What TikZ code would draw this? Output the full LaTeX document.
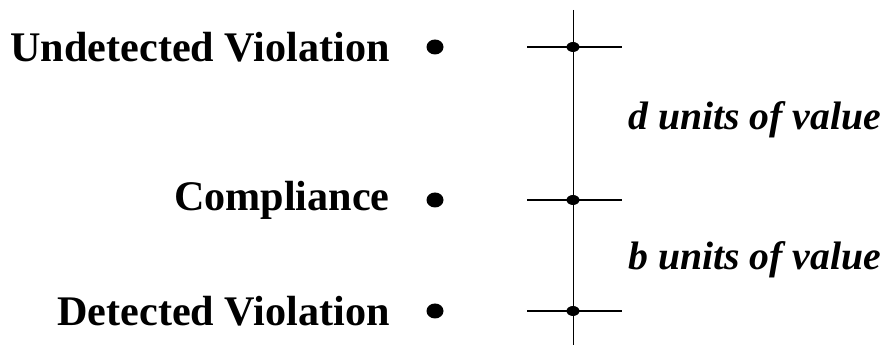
\documentclass[tikz,border=0pt]{standalone}
\usepackage{fontspec}
\setmainfont{Liberation Serif}
\usepackage{tikz}
\usetikzlibrary{calc,shapes.geometric}

\tikzset{
  outcome/.style={anchor=east,font=\bfseries\fontsize{24}{28}\selectfont,inner sep=0pt},
  gap/.style={anchor=west,font=\bfseries\itshape\fontsize{22.6}{26}\selectfont,inner sep=0pt},
  bullet/.style={ellipse,fill=black,minimum width=0.34cm,minimum height=0.3cm,inner sep=0pt},
  tickdot/.style={ellipse,fill=black,minimum width=0.26cm,minimum height=0.2cm,inner sep=0pt}
}

\begin{document}
\begin{tikzpicture}
  \useasboundingbox (0,0) rectangle (17.86,6.94);
  % outcomes on the left
  \node[outcome] (uv) at (7.8,6.0) {Undetected Violation};
  \node[outcome] (co) at (7.8,2.94) {Compliance};
  \node[outcome] (dv) at (7.8,0.72) {Detected Violation};
  \node[bullet] (buv) at (8.7,6.0) {};
  \node[bullet] (bco) at (8.7,2.94) {};
  \node[bullet] (bdv) at (8.7,0.72) {};
  % value scale
  \coordinate (top) at (11.46,6.74);
  \coordinate (bot) at (11.46,0.04);
  \draw[thin] (top) -- (bot);
  \node[tickdot] (tuv) at (11.46,6.0) {};
  \node[tickdot] (tco) at (11.46,2.94) {};
  \node[tickdot] (tdv) at (11.46,0.72) {};
  \draw[line width=1.1pt] ($(tuv)+(-0.92,0)$) -- ($(tuv)+(0.98,0)$);
  \draw[line width=1.1pt] ($(tco)+(-0.92,0)$) -- ($(tco)+(0.98,0)$);
  \draw[line width=1.1pt] ($(tdv)+(-0.92,0)$) -- ($(tdv)+(0.98,0)$);
  \node[gap] (d) at (12.56,4.54) {\textit{d} units of value};
  \node[gap] (b) at (12.56,1.74) {\textit{b} units of value};
\end{tikzpicture}
\end{document}
